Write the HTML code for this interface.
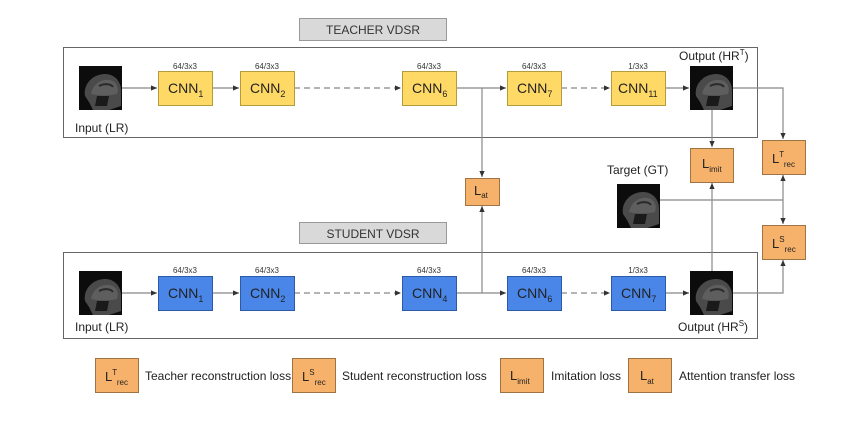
<!DOCTYPE html><html><head><style>
body{margin:0;background:#fff;width:865px;height:419px;overflow:hidden;font-family:"Liberation Sans",sans-serif}
</style></head><body>
<svg width="865" height="419" xmlns="http://www.w3.org/2000/svg" font-family="Liberation Sans, sans-serif">
<defs>
<marker id="a" markerWidth="6" markerHeight="6" refX="5" refY="3" orient="auto"><path d="M0,0.8L5,3L0,5.2z" fill="#333"/></marker>
<g id="brain"><rect width="43" height="44" fill="#0c0c0c"/><path d="M6,30 C4,18 14,8 26,8 C36,8 42,16 42,24 L42,40 L30,44 L14,44 L10,36 Z" fill="#4a4a4a"/><path d="M12,28 C14,18 22,13 30,14 C38,15 40,22 38,28 C30,30 20,30 12,28Z" fill="#5e5e5e"/><path d="M18,30 L30,30 L28,40 L16,40Z" fill="#1a1a1a"/><path d="M20,20 C26,17 32,18 34,21" stroke="#2a2a2a" stroke-width="2" fill="none"/></g>
</defs>
<g stroke="#666" fill="none" stroke-width="1"><rect x="63.5" y="47.5" width="694" height="90"/><rect x="63.5" y="252.5" width="694" height="86"/></g>
<rect x="299.5" y="18.5" width="147" height="22" fill="#d9d9d9" stroke="#999"/>
<text x="373" y="34" font-size="12" text-anchor="middle" fill="#333">TEACHER VDSR</text>
<rect x="299.5" y="222.5" width="147" height="21" fill="#d9d9d9" stroke="#999"/>
<text x="373" y="238" font-size="12" text-anchor="middle" fill="#333">STUDENT VDSR</text>
<g stroke="#888" stroke-width="1.2" fill="none" marker-end="url(#a)">
<line x1="122" y1="88" x2="157" y2="88"/><line x1="212" y1="88" x2="239" y2="88"/>
<line x1="294" y1="88" x2="401" y2="88" stroke-dasharray="6,4"/>
<line x1="456" y1="88" x2="506" y2="88"/><line x1="561" y1="88" x2="610" y2="88" stroke-dasharray="6,4"/>
<line x1="665" y1="88" x2="689" y2="88"/>
<polyline points="733,88 783,88 783,139"/>
<line x1="482" y1="88" x2="482" y2="177"/>
<line x1="712" y1="110" x2="712" y2="147"/>
<line x1="122" y1="293" x2="157" y2="293"/><line x1="212" y1="293" x2="239" y2="293"/>
<line x1="294" y1="293" x2="401" y2="293" stroke-dasharray="6,4"/>
<line x1="456" y1="293" x2="506" y2="293"/><line x1="561" y1="293" x2="610" y2="293" stroke-dasharray="6,4"/>
<line x1="665" y1="293" x2="689" y2="293"/>
<polyline points="733,293 783,293 783,260"/>
<line x1="482" y1="293" x2="482" y2="206"/>
<line x1="712" y1="272" x2="712" y2="183"/>
<line x1="783" y1="200" x2="783" y2="175"/><line x1="783" y1="200" x2="783" y2="224"/>
</g>
<line x1="660" y1="200" x2="783" y2="200" stroke="#888" stroke-width="1.2"/>
<use href="#brain" x="79" y="66"/><use href="#brain" x="690" y="66"/><use href="#brain" x="617" y="184"/>
<use href="#brain" x="79" y="271"/><use href="#brain" x="690" y="271"/>
<g font-size="12" fill="#222">
<text x="75" y="132">Input (LR)</text><text x="75" y="331">Input (LR)</text>
<text x="679" y="60">Output (HR<tspan font-size="8" dy="-5">T</tspan><tspan dy="5">)</tspan></text>
<text x="678" y="331">Output (HR<tspan font-size="8" dy="-5">S</tspan><tspan dy="5">)</tspan></text>
<text x="607" y="174">Target (GT)</text>
</g>
<g font-size="8" fill="#333" text-anchor="middle">
<text x="185" y="69">64/3x3</text><text x="267" y="69">64/3x3</text><text x="429" y="69">64/3x3</text><text x="534" y="69">64/3x3</text><text x="638" y="69">1/3x3</text>
<text x="185" y="273">64/3x3</text><text x="267" y="273">64/3x3</text><text x="429" y="273">64/3x3</text><text x="534" y="273">64/3x3</text><text x="638" y="273">1/3x3</text>
</g>
<g stroke-width="1" font-size="14" fill="#222">
<g fill="#ffd966" stroke="#b39b3e"><rect x="158.5" y="71.5" width="54" height="34"/><rect x="240.5" y="71.5" width="54" height="34"/><rect x="402.5" y="71.5" width="54" height="34"/><rect x="507.5" y="71.5" width="54" height="34"/><rect x="611.5" y="71.5" width="54" height="34"/></g>
<g fill="#4a86e8" stroke="#2d5aa8"><rect x="158.5" y="276.5" width="54" height="34"/><rect x="240.5" y="276.5" width="54" height="34"/><rect x="402.5" y="276.5" width="54" height="34"/><rect x="507.5" y="276.5" width="54" height="34"/><rect x="611.5" y="276.5" width="54" height="34"/></g>
<text x="168" y="93">CNN<tspan font-size="9" dy="4">1</tspan></text>
<text x="250" y="93">CNN<tspan font-size="9" dy="4">2</tspan></text>
<text x="412" y="93">CNN<tspan font-size="9" dy="4">6</tspan></text>
<text x="517" y="93">CNN<tspan font-size="9" dy="4">7</tspan></text>
<text x="618" y="93">CNN<tspan font-size="9" dy="4">11</tspan></text>
<text x="168" y="298">CNN<tspan font-size="9" dy="4">1</tspan></text>
<text x="250" y="298">CNN<tspan font-size="9" dy="4">2</tspan></text>
<text x="412" y="298">CNN<tspan font-size="9" dy="4">4</tspan></text>
<text x="517" y="298">CNN<tspan font-size="9" dy="4">6</tspan></text>
<text x="621" y="298">CNN<tspan font-size="9" dy="4">7</tspan></text>
</g>
<g fill="#f6b26b" stroke="#9e7444">
<rect x="465.5" y="178.5" width="34" height="27"/><rect x="690.5" y="148.5" width="43" height="34"/>
<rect x="762.5" y="140.5" width="43" height="34"/><rect x="762.5" y="225.5" width="43" height="34"/>
<rect x="95.5" y="358.5" width="43" height="34"/><rect x="292.5" y="358.5" width="43" height="34"/><rect x="500.5" y="358.5" width="43" height="34"/><rect x="628.5" y="358.5" width="43" height="34"/>
</g>
<g font-size="13" fill="#222">
<text x="474" y="195">L<tspan font-size="8" dy="3">at</tspan></text>
<text x="702" y="168">L<tspan font-size="8" dy="4">imit</tspan></text>
<text x="772" y="163">L<tspan font-size="8" dy="-6">T</tspan><tspan font-size="8" dy="10">rec</tspan></text>
<text x="772" y="248">L<tspan font-size="8" dy="-6">S</tspan><tspan font-size="8" dy="10">rec</tspan></text>
<text x="105" y="381">L<tspan font-size="8" dy="-6">T</tspan><tspan font-size="8" dy="10">rec</tspan></text>
<text x="302" y="381">L<tspan font-size="8" dy="-6">S</tspan><tspan font-size="8" dy="10">rec</tspan></text>
<text x="510" y="380">L<tspan font-size="8" dy="4">imit</tspan></text>
<text x="640" y="380">L<tspan font-size="8" dy="4">at</tspan></text>
</g>
<g font-size="12" fill="#222">
<text x="145" y="380">Teacher reconstruction loss</text>
<text x="342" y="380">Student reconstruction loss</text>
<text x="551" y="380">Imitation loss</text>
<text x="679" y="380">Attention transfer loss</text>
</g>
</svg>
</body></html>
